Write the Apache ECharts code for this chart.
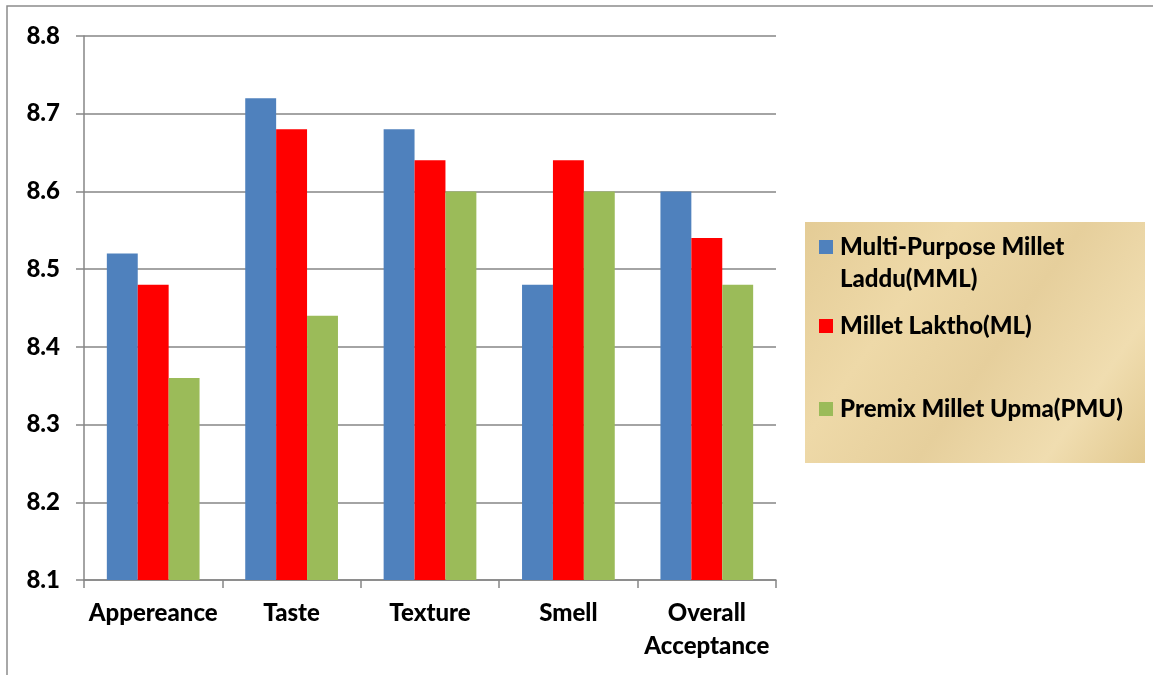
<!DOCTYPE html>
<html>
<head>
<meta charset="utf-8">
<script src="https://cdn.jsdelivr.net/npm/echarts@6/dist/echarts.min.js"></script>
<style>
  html, body { margin: 0; padding: 0; background: #fff; }
  #main { width: 1153px; height: 675px; }
</style>
</head>
<body>
<div id="main"></div>
<script>
var categories = ['Appereance', 'Taste', 'Texture', 'Smell', 'Overall\nAcceptance'];
var seriesNames = ['Multi-Purpose Millet Laddu(MML)', 'Millet Laktho(ML)', 'Premix Millet Upma(PMU)'];
var mmlValues = [8.52, 8.72, 8.68, 8.48, 8.60];
var mlValues = [8.48, 8.68, 8.64, 8.64, 8.54];
var pmuValues = [8.36, 8.44, 8.60, 8.60, 8.48];
var colors = ['#4f81bd', '#ff0000', '#9bbb59'];

var chartDom = document.getElementById('main');
var myChart = echarts.init(chartDom);
var font = 'Lato, "Open Sans", sans-serif';

function legendItem(i, top) {
  return {
    data: [seriesNames[i]],
    orient: 'vertical',
    left: 819,
    top: top,
    padding: 0,
    itemWidth: 14,
    itemHeight: 14,
    itemGap: 7,
    selectedMode: false,
    icon: 'rect',
    formatter: function (name) {
      // empty first line keeps the icon next to the first text line
      return i === 0 ? '\nMulti-Purpose Millet\nLaddu(MML)' : name;
    },
    textStyle: {
      fontFamily: font,
      fontWeight: 900,
      fontSize: 24,
      color: '#000',
      lineHeight: 32,
      padding: [0, 0, 0, 2]
    }
  };
}

var option = {
  animation: false,
  color: colors,
  graphic: [
    {
      type: 'rect',
      shape: { x: 7, y: 6, width: 1200, height: 720 },
      style: { fill: 'none', stroke: '#8c8c8c', lineWidth: 1.5 },
      z: -10
    },
    {
      type: 'rect',
      shape: { x: 805, y: 222, width: 340, height: 241 },
      style: {
        fill: new echarts.graphic.LinearGradient(0, 0, 1, 1, [
          { offset: 0, color: '#e4cc96' },
          { offset: 0.3, color: '#eed9a8' },
          { offset: 0.55, color: '#e6cf9c' },
          { offset: 0.8, color: '#f0ddb0' },
          { offset: 1, color: '#e2c990' }
        ])
      },
      z: -5
    }
  ],
  legend: [
    legendItem(0, 199),
    legendItem(1, 310),
    legendItem(2, 393)
  ],
  grid: {
    left: 84,
    right: 377,
    top: 36,
    bottom: 95,
    containLabel: false
  },
  xAxis: {
    type: 'category',
    data: categories,
    axisLine: { lineStyle: { color: '#868686', width: 1.5 } },
    axisTick: { show: true, length: 8, lineStyle: { color: '#868686', width: 1.5 } },
    axisLabel: {
      interval: 0,
      margin: 17,
      fontFamily: font,
      fontWeight: 900,
      fontSize: 24,
      lineHeight: 33,
      color: '#000'
    }
  },
  yAxis: {
    type: 'value',
    min: 8.1,
    max: 8.8,
    interval: 0.1,
    axisLine: { show: true, lineStyle: { color: '#868686', width: 1.5 } },
    axisTick: { show: true, length: 8, lineStyle: { color: '#868686', width: 1.5 } },
    splitLine: { show: true, lineStyle: { color: '#868686', width: 1.5 } },
    axisLabel: {
      margin: 24,
      fontFamily: font,
      fontWeight: 900,
      fontSize: 24,
      color: '#000',
      formatter: function (v) { return v.toFixed(1); }
    }
  },
  series: [
    { name: seriesNames[0], type: 'bar', data: mmlValues, barGap: '0%', barCategoryGap: '33%' },
    { name: seriesNames[1], type: 'bar', data: mlValues, barGap: '0%', barCategoryGap: '33%' },
    { name: seriesNames[2], type: 'bar', data: pmuValues, barGap: '0%', barCategoryGap: '33%' }
  ]
};

option && myChart.setOption(option);
</script>
</body>
</html>
